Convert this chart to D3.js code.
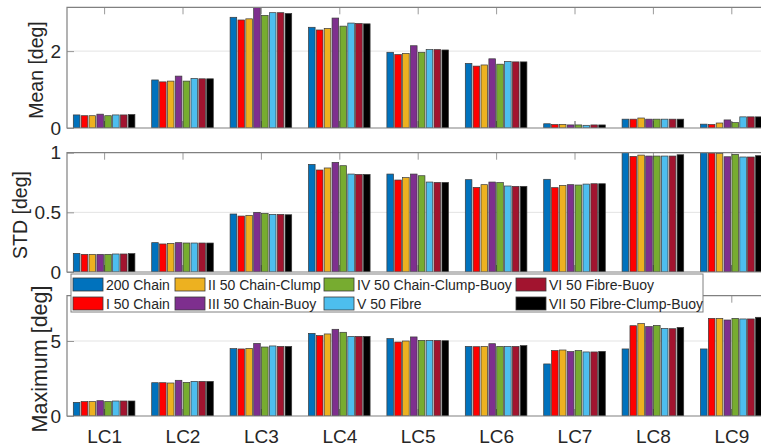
<!DOCTYPE html>
<html>
<head>
<meta charset="utf-8">
<script src="https://cdn.jsdelivr.net/npm/d3@7"></script>
<style>
  html, body { margin: 0; padding: 0; background: #fff; }
  svg { display: block; font-family: "Liberation Sans", Arial, Helvetica, sans-serif; }
</style>
</head>
<body>
<svg id="chart" width="761" height="448"></svg>
<script>
// ---------- data ----------
const categories = ["LC1", "LC2", "LC3", "LC4", "LC5", "LC6", "LC7", "LC8", "LC9"];
const seriesNames = ["200 Chain", "I 50 Chain", "II 50 Chain-Clump", "III 50 Chain-Buoy",
  "IV 50 Chain-Clump-Buoy", "V 50 Fibre", "VI 50 Fibre-Buoy", "VII 50 Fibre-Clump-Buoy"];
const seriesColors = ["#0072BD", "#FF0000", "#EDB120", "#7E2F8E", "#77AC30", "#4DBEEE", "#A2142F", "#000000"];

// rows = categories (LC1..LC9), columns = series
const meanValues = [
  [0.34, 0.32, 0.32, 0.36, 0.32, 0.34, 0.34, 0.35],
  [1.25, 1.20, 1.22, 1.35, 1.22, 1.29, 1.28, 1.28],
  [2.88, 2.81, 2.84, 3.20, 2.93, 3.00, 3.00, 2.98],
  [2.62, 2.55, 2.59, 2.86, 2.65, 2.73, 2.72, 2.71],
  [1.97, 1.91, 1.94, 2.14, 1.97, 2.04, 2.04, 2.03],
  [1.68, 1.61, 1.64, 1.80, 1.66, 1.73, 1.72, 1.72],
  [0.11, 0.09, 0.095, 0.08, 0.08, 0.07, 0.08, 0.08],
  [0.23, 0.23, 0.26, 0.23, 0.23, 0.23, 0.23, 0.23],
  [0.10, 0.09, 0.13, 0.21, 0.14, 0.29, 0.29, 0.29]
];
const stdValues = [
  [0.156, 0.148, 0.148, 0.148, 0.148, 0.151, 0.151, 0.154],
  [0.246, 0.235, 0.240, 0.246, 0.243, 0.243, 0.243, 0.243],
  [0.486, 0.469, 0.475, 0.500, 0.492, 0.483, 0.483, 0.480],
  [0.902, 0.855, 0.872, 0.919, 0.891, 0.821, 0.818, 0.818],
  [0.821, 0.771, 0.791, 0.821, 0.807, 0.754, 0.751, 0.751],
  [0.774, 0.709, 0.732, 0.754, 0.749, 0.721, 0.718, 0.718],
  [0.777, 0.707, 0.726, 0.732, 0.729, 0.737, 0.740, 0.740],
  [1.010, 0.969, 0.980, 0.972, 0.972, 0.972, 0.972, 0.983],
  [1.000, 0.997, 0.994, 0.966, 0.986, 0.964, 0.964, 0.975]
];
const maxValues = [
  [0.91, 0.96, 0.96, 1.02, 0.96, 1.00, 1.00, 1.00],
  [2.22, 2.22, 2.20, 2.38, 2.24, 2.31, 2.31, 2.31],
  [4.49, 4.47, 4.51, 4.84, 4.60, 4.67, 4.64, 4.64],
  [5.51, 5.36, 5.47, 5.78, 5.58, 5.31, 5.31, 5.31],
  [5.16, 4.93, 5.00, 5.27, 5.04, 5.04, 5.04, 5.02],
  [4.64, 4.62, 4.64, 4.82, 4.64, 4.64, 4.64, 4.69],
  [3.47, 4.36, 4.40, 4.29, 4.36, 4.27, 4.27, 4.31],
  [4.47, 6.02, 6.16, 5.96, 6.04, 5.84, 5.82, 5.91],
  [4.47, 6.51, 6.51, 6.40, 6.51, 6.47, 6.47, 6.58]
];

const meanTicks = [0, 2];
const stdTicks = [0, 0.5, 1];
const maxTicks = [0, 5];

const panels = [
  { label: "Mean [deg]",    values: meanValues, domain: [0, 3.14], ticks: meanTicks, fmt: d3.format("d"), top: 7.3,   bottom: 128,
    labelX: 43, labelY: 70, labelSize: 19.5 },
  { label: "STD [deg]",     values: stdValues,  domain: [0, 1.0],  ticks: stdTicks,  fmt: d => String(d), top: 152.7, bottom: 272,
    labelX: 27, labelY: 215, labelSize: 19.5 },
  { label: "Maximum [deg]", values: maxValues,  domain: [0, 8.02], ticks: maxTicks,  fmt: d3.format("d"), top: 295.7, bottom: 416,
    labelX: 47, labelY: 359, labelSize: 21.5 }
];

// ---------- layout ----------
const axisLeftX = 67;
const axisRightX = 770;   // plot area continues past the picture's right edge
const svg = d3.select("#chart");
const textColor = "#262626";
const axisColor = "#808080";

const x = d3.scaleLinear().domain([0, categories.length - 1]).range([104.1, 731.3]);
const groupHalf = 30.8;
const xs = d3.scaleBand().domain(d3.range(seriesNames.length)).range([-groupHalf, groupHalf]).paddingInner(0.16);

panels.forEach((p, pi) => {
  const y = d3.scaleLinear().domain(p.domain).range([p.bottom, p.top]);
  const g = svg.append("g");
  const clipId = "clip" + pi;
  svg.append("clipPath").attr("id", clipId)
    .append("rect").attr("x", axisLeftX).attr("y", p.top)
    .attr("width", axisRightX - axisLeftX).attr("height", p.bottom - p.top);

  // grid
  g.append("g").selectAll("line").data(p.ticks.filter(t => t > p.domain[0] && t < p.domain[1]))
    .join("line")
    .attr("x1", axisLeftX).attr("x2", axisRightX)
    .attr("y1", d => y(d)).attr("y2", d => y(d))
    .attr("stroke", "#e3e3e3").attr("stroke-width", 1);

  // x ticks (inward, top and bottom)
  const xb = d3.axisBottom(x).tickValues(d3.range(categories.length))
    .tickSizeInner(-7).tickSizeOuter(0).tickPadding(13.5)
    .tickFormat(i => pi === 2 ? categories[i] : "");
  const xg = g.append("g").attr("transform", `translate(0,${p.bottom})`).call(xb);
  xg.select(".domain").remove();
  xg.selectAll(".tick line").attr("stroke", textColor).attr("stroke-width", 0.8);
  xg.selectAll(".tick text").attr("fill", textColor).style("font-size", "19px")
    .attr("font-family", "'Liberation Sans', Arial, sans-serif");
  const xt = d3.axisTop(x).tickValues(d3.range(categories.length))
    .tickSizeInner(-7).tickSizeOuter(0).tickFormat("");
  const xtg = g.append("g").attr("transform", `translate(0,${p.top})`).call(xt);
  xtg.select(".domain").remove();
  xtg.selectAll(".tick line").attr("stroke", axisColor).attr("stroke-width", 0.8);

  // bars
  const bars = g.append("g").attr("clip-path", `url(#${clipId})`);
  p.values.forEach((row, ci) => {
    bars.selectAll(null).data(row).join("rect")
      .attr("x", (d, si) => x(ci) + xs(si))
      .attr("width", xs.bandwidth())
      .attr("y", d => y(d))
      .attr("height", d => y(0) - y(d))
      .attr("fill", (d, si) => seriesColors[si])
      .attr("stroke", "#3a3a3a").attr("stroke-width", 0.7);
  });

  // y axis
  const ya = d3.axisLeft(y).tickValues(p.ticks).tickFormat(p.fmt)
    .tickSizeInner(-7).tickSizeOuter(0).tickPadding(6);
  const yg = g.append("g").attr("transform", `translate(${axisLeftX},0)`).call(ya);
  yg.select(".domain").remove();
  yg.selectAll(".tick line").attr("stroke", axisColor).attr("stroke-width", 0.8);
  yg.selectAll(".tick text").attr("fill", textColor).style("font-size", "19px")
    .attr("font-family", "'Liberation Sans', Arial, sans-serif");

  // frame
  g.append("path")
    .attr("d", `M${axisRightX},${p.top}H${axisLeftX}V${p.bottom}H${axisRightX}`)
    .attr("fill", "none").attr("stroke", axisColor).attr("stroke-width", 1.2);

  // y label
  g.append("text")
    .attr("transform", `translate(${p.labelX},${p.labelY}) rotate(-90)`)
    .attr("text-anchor", "middle")
    .attr("fill", textColor)
    .style("font-size", p.labelSize + "px")
    .text(p.label);
});

// ---------- legend ----------
const legendColX = [73, 175, 324, 516];
const legendRowY = [278, 297];
const lg = svg.append("g");
lg.append("rect").attr("x", 71).attr("y", 274).attr("width", 632).attr("height", 38)
  .attr("fill", "#fff").attr("stroke", axisColor).attr("stroke-width", 1);
seriesNames.forEach((name, si) => {
  const col = Math.floor(si / 2), row = si % 2;
  const item = lg.append("g").attr("transform", `translate(${legendColX[col]},${legendRowY[row]})`);
  item.append("rect").attr("width", 30).attr("height", 13)
    .attr("fill", seriesColors[si]).attr("stroke", "#3a3a3a").attr("stroke-width", 0.8);
  item.append("text").attr("x", 33).attr("y", 11.5)
    .attr("fill", textColor).style("font-size", "14px").text(name);
});
</script>
</body>
</html>
